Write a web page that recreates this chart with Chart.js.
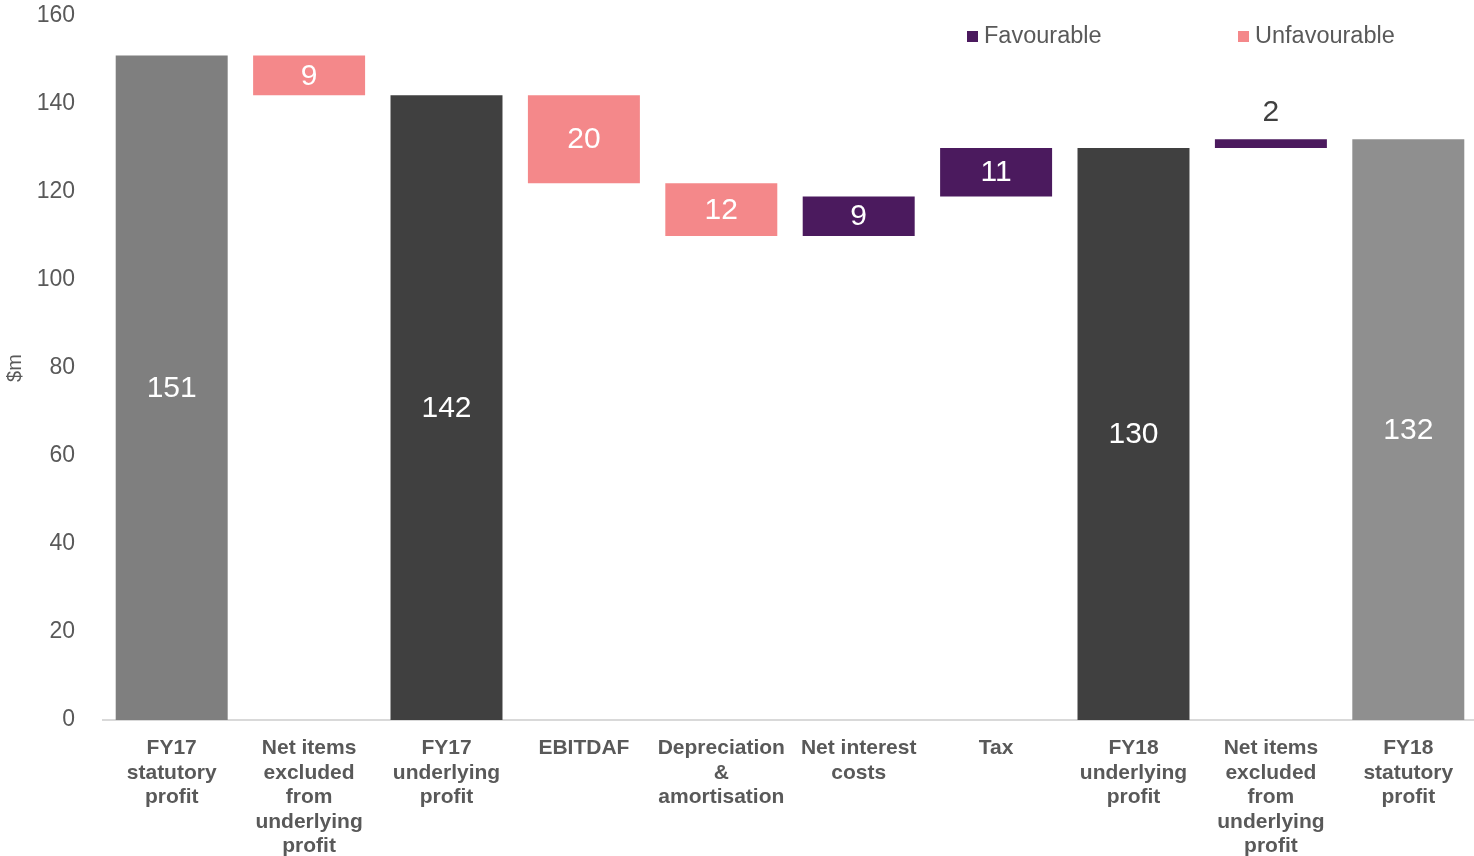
<!DOCTYPE html>
<html>
<head>
<meta charset="utf-8">
<script src="https://cdn.jsdelivr.net/npm/chart.js@4/dist/chart.umd.min.js"></script>
<style>
    html, body { margin: 0; padding: 0; background: #ffffff; overflow: hidden; }
    #wrap { width: 1477px; height: 856px; position: relative; }
</style>
</head>
<body>
<div id="wrap"><canvas id="chart"></canvas></div>
<script>
// profit bridge, $m
const categories = [
    ["FY17", "statutory", "profit"],
    ["Net items", "excluded", "from", "underlying", "profit"],
    ["FY17", "underlying", "profit"],
    ["EBITDAF"],
    ["Depreciation", "&", "amortisation"],
    ["Net interest", "costs"],
    ["Tax"],
    ["FY18", "underlying", "profit"],
    ["Net items", "excluded", "from", "underlying", "profit"],
    ["FY18", "statutory", "profit"]
];
const steps = [151, -9, 142, -20, -12, 9, 11, 130, 2, 132];
const isTotal = [true, false, true, false, false, false, false, true, false, true];
const yTicks = [0, 20, 40, 60, 80, 100, 120, 140, 160];

const totalColours = ["#7f7f7f", "#404040", "#404040", "#8f8f8f"];
const favColour = "#4b1a5e";
const unfavColour = "#f4888a";
const textGrey = "#595959";

// running total -> floating bars
const bars = [];
const colours = [];
let running = 0;
let t = 0;
steps.forEach((v, i) => {
    if (isTotal[i]) {
        bars.push([0, v]);
        running = v;
        colours.push(totalColours[t++]);
    } else {
        const next = running + v;
        bars.push([Math.min(running, next), Math.max(running, next)]);
        running = next;
        colours.push(v >= 0 ? favColour : unfavColour);
    }
});

const valueLabels = {
    id: "valueLabels",
    afterDatasetsDraw(chart) {
        const ctx = chart.ctx;
        const meta = chart.getDatasetMeta(0);
        ctx.save();
        ctx.font = "30px 'Liberation Sans', Arial, sans-serif";
        ctx.textAlign = "center";
        ctx.textBaseline = "middle";
        meta.data.forEach((el, i) => {
            const top = Math.min(el.y, el.base);
            const h = Math.abs(el.base - el.y);
            const text = String(Math.abs(steps[i]));
            if (h < 30) {
                ctx.fillStyle = "#404040";
                ctx.fillText(text, el.x, top - 26);
            } else {
                ctx.fillStyle = "#ffffff";
                ctx.fillText(text, el.x, top + h / 2 + 1);
            }
        });
        ctx.restore();
    }
};

const legendItems = {
    id: "legendItems",
    afterDraw(chart) {
        const ctx = chart.ctx;
        const right = chart.chartArea.right;
        const items = [
            { text: "Favourable", colour: favColour, x: right - 510 },
            { text: "Unfavourable", colour: unfavColour, x: right - 239 }
        ];
        ctx.save();
        ctx.font = "23.5px 'Liberation Sans', Arial, sans-serif";
        ctx.textBaseline = "middle";
        ctx.textAlign = "left";
        items.forEach((it) => {
            ctx.fillStyle = it.colour;
            ctx.fillRect(it.x, 31, 11, 11);
            ctx.fillStyle = textGrey;
            ctx.fillText(it.text, it.x + 17, 37);
        });
        ctx.restore();
    }
};

const ctx = document.getElementById("chart").getContext("2d");
new Chart(ctx, {
    type: "bar",
    data: {
        labels: categories,
        datasets: [
            {
                data: bars,
                backgroundColor: colours,
                borderWidth: 0,
                barPercentage: 0.815,
                categoryPercentage: 1
            }
        ]
    },
    options: {
        responsive: true,
        maintainAspectRatio: false,
        animation: false,
        layout: { padding: { top: 16, right: 0, left: 0, bottom: 0 } },
        plugins: {
            legend: { display: false },
            tooltip: { enabled: false }
        },
        scales: {
            x: {
                grid: { display: false },
                border: { display: true, color: "#d9d9d9", width: 2 },
                ticks: {
                    color: textGrey,
                    font: { family: "'Liberation Sans', Arial, sans-serif", size: 21, weight: "bold", lineHeight: 1.17 },
                    maxRotation: 0,
                    autoSkip: false,
                    padding: 8
                },
                afterFit(scale) {
                    scale.height = 136;
                    scale.paddingLeft = 0;
                    scale.paddingRight = 0;
                }
            },
            y: {
                min: 0,
                max: 160,
                afterBuildTicks(scale) { scale.ticks = yTicks.map((v) => ({ value: v })); },
                grid: { display: false },
                border: { display: false },
                ticks: {
                    color: textGrey,
                    font: { family: "'Liberation Sans', Arial, sans-serif", size: 23 },
                    padding: 20
                },
                title: {
                    display: true,
                    text: "$m",
                    color: textGrey,
                    font: { family: "'Liberation Sans', Arial, sans-serif", size: 20 },
                    padding: { top: 3, bottom: 0 }
                },
                afterFit(scale) {
                    scale.width = 103;
                    scale.paddingTop = 0;
                    scale.paddingBottom = 0;
                }
            }
        }
    },
    plugins: [valueLabels, legendItems]
});
</script>
</body>
</html>
